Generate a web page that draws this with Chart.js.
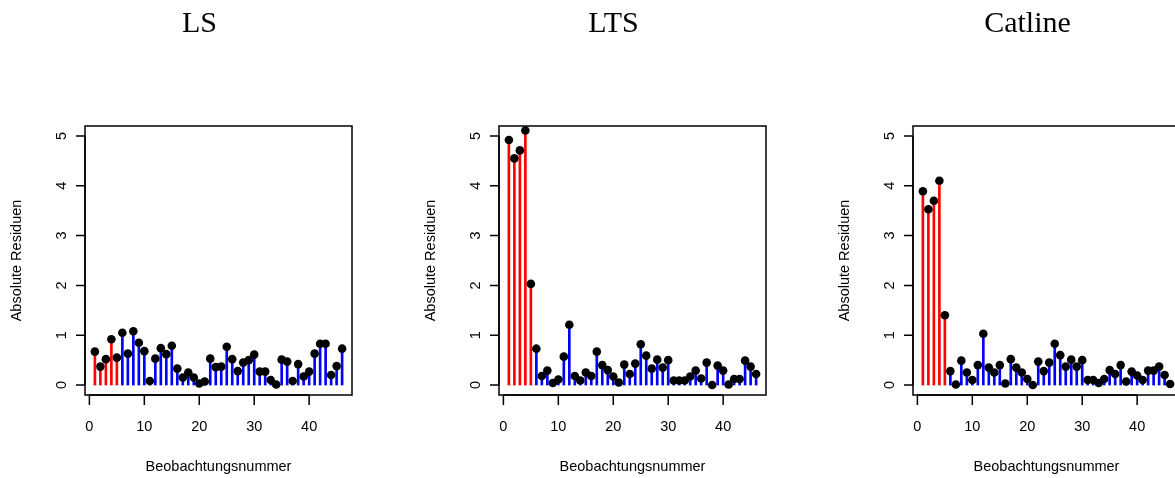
<!DOCTYPE html>
<html lang="de">
<head>
  <meta charset="UTF-8" />
  <title>Absolute Residuen</title>
  <script src="https://cdn.jsdelivr.net/npm/chart.js"></script>
  <style>
    html, body { margin: 0; padding: 0; background: #fff; }
    #wrap { position: relative; width: 1175px; height: 478px; overflow: hidden; }
    #wrap canvas { position: absolute; top: 0; }
  </style>
</head>
<body>
  <div id="wrap">
    <canvas id="c1" width="414" height="478" style="left:0px"></canvas>
    <canvas id="c2" width="414" height="478" style="left:414px"></canvas>
    <canvas id="c3" width="414" height="478" style="left:828px"></canvas>
  </div>

  <script>
    // Beobachtungsnummern
    var obs = [1, 2, 3, 4, 5, 6, 7, 8, 9, 10, 11, 12, 13, 14, 15, 16, 17, 18, 19, 20, 21, 22, 23,
               24, 25, 26, 27, 28, 29, 30, 31, 32, 33, 34, 35, 36, 37, 38, 39, 40, 41, 42, 43, 44, 45, 46];
    // markierte Beobachtungen (rot)
    var flagged = [1, 2, 3, 4, 5];

    var titles = ['LS', 'LTS', 'Catline'];

    var resLS = [0.67, 0.37, 0.52, 0.92, 0.55, 1.05, 0.63, 1.08, 0.85, 0.68, 0.08, 0.53, 0.74, 0.62, 0.79,
                 0.33, 0.15, 0.25, 0.15, 0.03, 0.07, 0.53, 0.36, 0.37, 0.77, 0.52, 0.28, 0.45, 0.50, 0.61,
                 0.27, 0.27, 0.10, 0.01, 0.51, 0.47, 0.08, 0.42, 0.17, 0.27, 0.63, 0.83, 0.83, 0.20, 0.38, 0.73];
    var resLTS = [4.92, 4.55, 4.71, 5.11, 2.03, 0.73, 0.18, 0.29, 0.04, 0.11, 0.57, 1.21, 0.18, 0.09, 0.25,
                  0.18, 0.67, 0.40, 0.30, 0.17, 0.05, 0.41, 0.22, 0.43, 0.82, 0.59, 0.33, 0.51, 0.35, 0.50,
                  0.09, 0.09, 0.09, 0.17, 0.29, 0.13, 0.45, 0.00, 0.39, 0.29, 0.01, 0.12, 0.12, 0.49, 0.37, 0.22];
    var resCat = [3.89, 3.53, 3.70, 4.10, 1.40, 0.28, 0.01, 0.49, 0.25, 0.10, 0.40, 1.03, 0.35, 0.25, 0.40,
                  0.03, 0.52, 0.35, 0.25, 0.12, 0.00, 0.47, 0.28, 0.45, 0.83, 0.60, 0.37, 0.51, 0.37, 0.50,
                  0.10, 0.10, 0.04, 0.12, 0.30, 0.22, 0.40, 0.07, 0.27, 0.19, 0.10, 0.29, 0.29, 0.37, 0.20, 0.02];

    var xTicks = [0, 10, 20, 30, 40];
    var yTicks = [0, 1, 2, 3, 4, 5];
    var xLabel = 'Beobachtungsnummer';
    var yLabel = 'Absolute Residuen';

    var sans = '"Liberation Sans", Arial, sans-serif';
    var serif = '"Liberation Serif", "Times New Roman", serif';

    // Achsen im Stil von R: Rahmen, Ticks nach aussen, gedrehte y-Beschriftung
    var rAxes = {
      id: 'rAxes',
      afterDraw: function (chart) {
        var ctx = chart.ctx;
        var a = chart.chartArea;
        var sx = chart.scales.x, sy = chart.scales.y;
        ctx.save();
        ctx.strokeStyle = '#000';
        ctx.fillStyle = '#000';
        ctx.lineWidth = 1.5;
        ctx.strokeRect(a.left, a.top, a.right - a.left, a.bottom - a.top);

        // x-Achse
        ctx.beginPath();
        ctx.moveTo(sx.getPixelForValue(xTicks[0]), a.bottom);
        ctx.lineTo(sx.getPixelForValue(xTicks[xTicks.length - 1]), a.bottom);
        xTicks.forEach(function (t) {
          var px = sx.getPixelForValue(t);
          ctx.moveTo(px, a.bottom);
          ctx.lineTo(px, a.bottom + 10);
        });
        // y-Achse
        ctx.moveTo(a.left, sy.getPixelForValue(yTicks[0]));
        ctx.lineTo(a.left, sy.getPixelForValue(yTicks[yTicks.length - 1]));
        yTicks.forEach(function (t) {
          var py = sy.getPixelForValue(t);
          ctx.moveTo(a.left, py);
          ctx.lineTo(a.left - 9, py);
        });
        ctx.stroke();

        ctx.font = '14.5px ' + sans;
        ctx.textAlign = 'center';
        ctx.textBaseline = 'middle';
        xTicks.forEach(function (t) {
          ctx.fillText(String(t), sx.getPixelForValue(t), a.bottom + 32);
        });
        ctx.fillText(xLabel, (a.left + a.right) / 2, a.bottom + 72);

        yTicks.forEach(function (t) {
          ctx.save();
          ctx.translate(a.left - 23, sy.getPixelForValue(t));
          ctx.rotate(-Math.PI / 2);
          ctx.fillText(String(t), 0, 0);
          ctx.restore();
        });
        ctx.save();
        ctx.translate(17, (a.top + a.bottom) / 2);
        ctx.rotate(-Math.PI / 2);
        ctx.fillText(yLabel, 0, 0);
        ctx.restore();

        ctx.font = '30px ' + serif;
        ctx.textBaseline = 'alphabetic';
        ctx.fillText(chart.options.plugins.rAxes.title, 199.5, 32);
        ctx.restore();
      }
    };

    function makePanel(id, title, values) {
      var stemColors = obs.map(function (o) {
        return flagged.indexOf(o) >= 0 ? '#ff0000' : '#0000ff';
      });
      var pts = obs.map(function (o, i) { return { x: o, y: values[i] }; });

      new Chart(document.getElementById(id), {
        data: {
          datasets: [
            {
              type: 'scatter',
              data: pts,
              pointRadius: 4.3,
              pointBackgroundColor: '#000',
              pointBorderWidth: 0,
              order: 0
            },
            {
              type: 'bar',
              data: pts,
              backgroundColor: stemColors,
              barThickness: 2,
              borderWidth: 0,
              order: 1
            }
          ]
        },
        options: {
          responsive: false,
          animation: false,
          devicePixelRatio: 1,
          layout: { padding: { left: 85, right: 62, top: 126, bottom: 83 } },
          scales: {
            x: { type: 'linear', min: -0.8, max: 47.8, offset: false, display: false },
            y: { type: 'linear', min: -0.2, max: 5.2, display: false }
          },
          plugins: {
            legend: { display: false },
            tooltip: { enabled: false },
            rAxes: { title: title }
          }
        },
        plugins: [rAxes]
      });
    }

    makePanel('c1', titles[0], resLS);
    makePanel('c2', titles[1], resLTS);
    makePanel('c3', titles[2], resCat);
  </script>
</body>
</html>
